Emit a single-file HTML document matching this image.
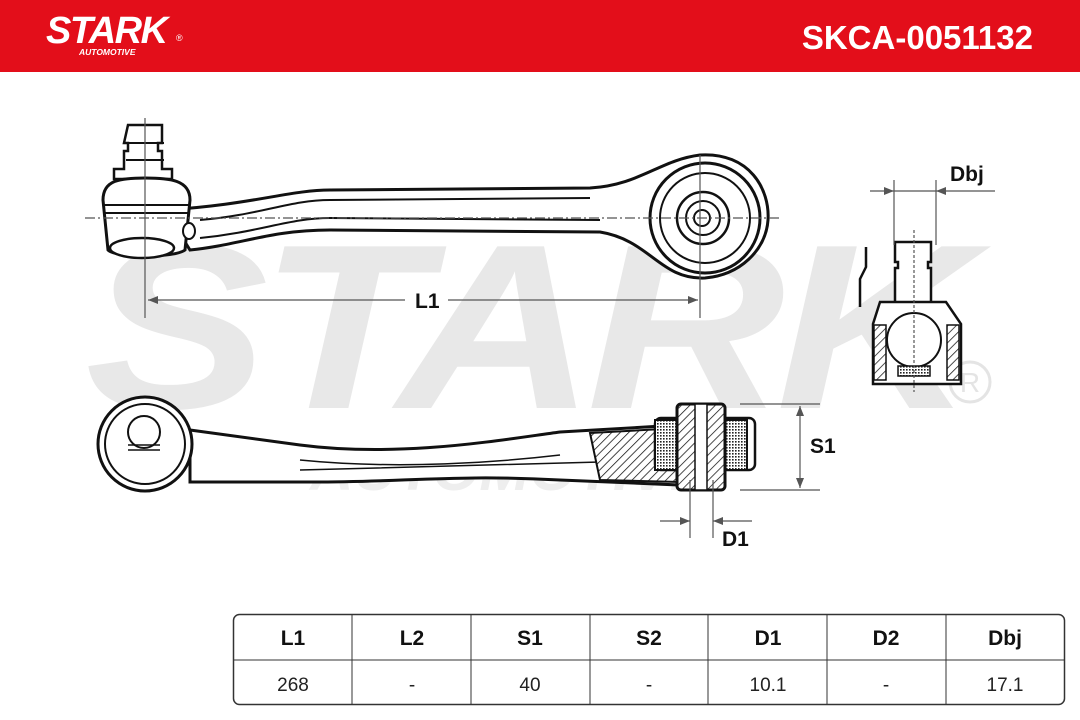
<!DOCTYPE html>
<html><head><meta charset="utf-8"><style>
body{margin:0;width:1080px;height:720px;background:#fff;overflow:hidden;font-family:"Liberation Sans",sans-serif}
svg{position:absolute;left:0;top:0}
</style></head><body>
<svg width="1080" height="720" viewBox="0 0 1080 720" xmlns="http://www.w3.org/2000/svg">
<defs>
<pattern id="h" width="6" height="6" patternUnits="userSpaceOnUse" patternTransform="rotate(45)"><rect width="6" height="6" fill="#fff"/><line x1="0" y1="0" x2="0" y2="6" stroke="#111" stroke-width="1.5"/></pattern>
<pattern id="d" width="3" height="3" patternUnits="userSpaceOnUse"><rect width="3" height="3" fill="#fff"/><rect width="1.6" height="1.6" fill="#222"/></pattern>
</defs>
<rect x="0" y="0" width="1080" height="72" fill="#e30e1a"/>
<text x="46" y="43" font-size="38" font-weight="bold" font-style="italic" fill="#fff" letter-spacing="-1.5">STARK</text>
<text x="176" y="41" font-size="9" fill="#fff">®</text>
<text x="79" y="55" font-size="8.5" font-weight="bold" font-style="italic" fill="#fff">AUTOMOTIVE</text>
<text x="1033" y="49" font-size="33" font-weight="bold" fill="#fff" text-anchor="end">SKCA-0051132</text>
<!-- watermark -->
<text x="85" y="408" font-size="235" font-weight="bold" font-style="italic" fill="#e8e8e8" letter-spacing="-8" textLength="880" lengthAdjust="spacingAndGlyphs">STARK</text>
<text x="310" y="490" font-size="58" font-weight="bold" font-style="italic" fill="#eeeeee" textLength="400" lengthAdjust="spacingAndGlyphs">AUTOMOTIVE</text>
<circle cx="970" cy="382" r="20" fill="none" stroke="#e4e4e4" stroke-width="3"/>
<text x="970" y="392" font-size="28" fill="#e4e4e4" text-anchor="middle">R</text>
<g fill="#fff" stroke="#111" stroke-width="3">
<!-- top arm -->
<path d="M165 210 C250 205 290 190 330 190 L590 188 C640 185 660 160 700 155 C750 152 770 190 768 220 C766 250 740 275 705 278 C660 280 650 240 600 232 L330 230 C270 230 240 245 190 250 Z"/>
<path d="M200 220 C260 215 290 200 330 200 L590 198 M200 238 C260 232 290 218 330 218 L600 220" fill="none" stroke-width="2"/>
<circle cx="705" cy="218" r="55"/><circle cx="705" cy="218" r="45" stroke-width="2"/>
<circle cx="703" cy="218" r="26" stroke-width="2.5"/><circle cx="703" cy="218" r="17" stroke-width="2"/><circle cx="702" cy="218" r="8" stroke-width="2"/>
<path d="M128 125 h34 v18 h-4 v8 h4 v18 h10 v10 h-58 v-10 h10 v-18 h4 v-8 h-4 z" stroke-width="2.5"/>
<line x1="126" y1="143" x2="164" y2="143" stroke-width="2"/><line x1="126" y1="160" x2="164" y2="160" stroke-width="2"/>
<path d="M103 200 C103 180 120 178 145 178 C170 178 190 180 190 200 L185 250 C175 258 115 258 108 250 Z"/>
<line x1="103" y1="205" x2="190" y2="205" stroke-width="2"/>
<line x1="103" y1="213" x2="190" y2="213" stroke-width="2"/>
<ellipse cx="142" cy="248" rx="32" ry="10" stroke-width="2.5"/>
<ellipse cx="189" cy="231" rx="6" ry="8" stroke-width="2"/>
<!-- bottom arm -->
<path d="M190 430 L300 445 C400 458 500 440 560 432 L680 425 L680 485 L560 480 C450 474 400 483 300 482 L190 482 Z"/>
<path d="M300 460 C400 470 500 462 560 455 M300 470 L600 462" fill="none" stroke-width="1.5"/>
<path d="M590 433 L680 428 L680 482 L600 480 Z" fill="url(#h)" stroke-width="2"/>
<circle cx="145" cy="444" r="47"/><circle cx="145" cy="444" r="40" stroke-width="2"/>
<circle cx="144" cy="432" r="16" stroke-width="2"/>
<path d="M128 445 h32 M128 450 h32" stroke-width="1.5"/>
<rect x="655" y="418" width="100" height="52" rx="6" stroke-width="2.5"/>
<rect x="655" y="420" width="22" height="50" fill="url(#d)" stroke-width="2"/>
<rect x="725" y="420" width="22" height="50" fill="url(#d)" stroke-width="2"/>
<rect x="677" y="404" width="48" height="86" rx="4" fill="url(#h)" stroke-width="3"/>
<rect x="695" y="404" width="12" height="86" stroke-width="1.5"/>
<!-- ball joint -->
<path d="M895 242 h36 v20 h-3 v6 h3 v36 h-36 v-36 h3 v-6 h-3 z" stroke-width="2.5"/>
<path d="M880 302 h66 l15 22 v60 h-88 v-60 z" stroke-width="2.5"/>
<rect x="874" y="325" width="12" height="55" fill="url(#h)" stroke-width="1.5"/>
<rect x="947" y="325" width="12" height="55" fill="url(#h)" stroke-width="1.5"/>
<circle cx="914" cy="340" r="27" stroke-width="2"/>
<rect x="898" y="366" width="32" height="10" fill="url(#d)" stroke-width="1.5"/>
<path d="M866 247 v20 l-6 12 v28" fill="none" stroke-width="2.5"/>
</g>
<!-- dimension lines -->
<g stroke="#555" stroke-width="1.2" fill="none">
<line x1="145" y1="118" x2="145" y2="318"/><line x1="700" y1="155" x2="700" y2="318"/>
<line x1="85" y1="218" x2="780" y2="218" stroke-dasharray="10 3 2 3"/>
<line x1="148" y1="300" x2="405" y2="300"/><line x1="448" y1="300" x2="698" y2="300"/>
<line x1="740" y1="404" x2="820" y2="404"/><line x1="740" y1="490" x2="820" y2="490"/>
<line x1="800" y1="406" x2="800" y2="488"/>
<line x1="690" y1="480" x2="690" y2="538"/><line x1="713" y1="480" x2="713" y2="538"/>
<line x1="660" y1="521" x2="690" y2="521"/><line x1="713" y1="521" x2="752" y2="521"/>
<line x1="870" y1="191" x2="995" y2="191"/>
<line x1="894" y1="180" x2="894" y2="245"/><line x1="936" y1="180" x2="936" y2="245"/>
<line x1="914" y1="230" x2="914" y2="392" stroke-dasharray="3 2"/>
</g>
<g fill="#555">
<path d="M148 300 l10 -4 v8z"/><path d="M698 300 l-10 -4 v8z"/>
<path d="M800 406 l-4 10 h8z"/><path d="M800 488 l-4 -10 h8z"/>
<path d="M690 521 l-10 -4 v8z"/><path d="M713 521 l10 -4 v8z"/>
<path d="M894 191 l-10 -4 v8z"/><path d="M936 191 l10 -4 v8z"/>
</g>
<g font-weight="bold" font-size="21" fill="#111">
<text x="415" y="308">L1</text>
<text x="810" y="453">S1</text>
<text x="722" y="546">D1</text>
<text x="950" y="181">Dbj</text>
</g>
<!-- table -->
<g stroke="#333" fill="none">
<rect x="233.5" y="614.5" width="831" height="90" rx="6" stroke-width="1.5"/>
<line x1="233" y1="660" x2="1065" y2="660" stroke-width="1"/>
<line x1="352" y1="614" x2="352" y2="705"/><line x1="471" y1="614" x2="471" y2="705"/>
<line x1="590" y1="614" x2="590" y2="705"/><line x1="708" y1="614" x2="708" y2="705"/>
<line x1="827" y1="614" x2="827" y2="705"/><line x1="946" y1="614" x2="946" y2="705"/>
</g>
<g font-size="21" font-weight="bold" fill="#111" text-anchor="middle">
<text x="293" y="645">L1</text><text x="412" y="645">L2</text><text x="530" y="645">S1</text><text x="649" y="645">S2</text><text x="768" y="645">D1</text><text x="886" y="645">D2</text><text x="1005" y="645">Dbj</text>
</g>
<g font-size="19" fill="#222" text-anchor="middle">
<text x="293" y="691">268</text><text x="412" y="691">-</text><text x="530" y="691">40</text><text x="649" y="691">-</text><text x="768" y="691">10.1</text><text x="886" y="691">-</text><text x="1005" y="691">17.1</text>
</g>
</svg>
</body></html>
